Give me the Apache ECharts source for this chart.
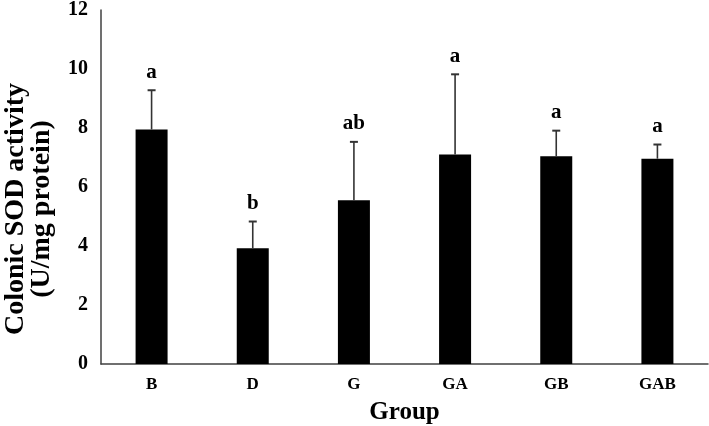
<!DOCTYPE html>
<html lang="en">
    <head>
        <meta charset="utf-8">
        <script src="https://cdn.jsdelivr.net/npm/echarts@6/dist/echarts.min.js"></script>
    </head>
    <style>
        *{
            margin:0;
            padding:0;
        }
    </style>
    <body>
        <div id="main" style="width: 709px;height:426px;"></div>
    </body>
</html>
<script>
// groups and values
var categories = ['B', 'D', 'G', 'GA', 'GB', 'GAB'];
var means = [7.95, 3.92, 5.55, 7.1, 7.04, 6.96];
var sd = [1.33, 0.91, 1.98, 2.72, 0.87, 0.48];
var letters = ['a', 'b', 'ab', 'a', 'a', 'a'];
var yTicks = [0, 2, 4, 6, 8, 10, 12];

var myChart = echarts.init(document.getElementById('main'));
var font = 'Liberation Serif';

var errData = means.map(function (m, i) {
    return [i, m, m + sd[i], letters[i]];
});

var option = {
    animation: false,
    backgroundColor: '#fff',
    grid: {
        left: 101,
        right: 1,
        top: 10,
        bottom: 62,
        outerBoundsMode: 'none'
    },
    xAxis: {
        type: 'category',
        data: categories,
        name: 'Group',
        nameLocation: 'middle',
        nameGap: 36,
        nameTextStyle: {
            fontFamily: font,
            fontWeight: 'bold',
            fontSize: 25,
            color: '#000'
        },
        axisLine: {lineStyle: {color: '#404040', width: 1.5}},
        axisTick: {show: false},
        axisLabel: {
            margin: 12,
            fontFamily: font,
            fontWeight: 'bold',
            fontSize: 17,
            color: '#000'
        }
    },
    yAxis: {
        type: 'value',
        min: 0,
        max: 12,
        interval: 2,
        name: 'Colonic SOD activity\n(U/mg protein)',
        nameLocation: 'middle',
        nameGap: 46,
        nameTextStyle: {
            fontFamily: font,
            fontWeight: 'bold',
            fontSize: 28,
            lineHeight: 26,
            color: '#000',
            padding: [0, 44, 0, 0]
        },
        splitLine: {show: false},
        axisTick: {show: false},
        axisLine: {show: true, lineStyle: {color: '#404040', width: 1.5}},
        axisLabel: {
            margin: 13,
            fontFamily: font,
            fontWeight: 'bold',
            fontSize: 20,
            color: '#000',
            formatter: function (v) {
                return yTicks.indexOf(v) >= 0 ? v : '';
            }
        }
    },
    series: [{
        type: 'bar',
        data: means,
        barWidth: 32,
        itemStyle: {color: '#000'},
        z: 2
    }, {
        type: 'custom',
        data: errData,
        z: 3,
        renderItem: function (params, api) {
            var low = api.coord([api.value(0), api.value(1)]);
            var high = api.coord([api.value(0), api.value(2)]);
            var cap = 4;
            return {
                type: 'group',
                children: [{
                    type: 'line',
                    shape: {x1: low[0], y1: low[1], x2: high[0], y2: high[1]},
                    style: {stroke: '#333', lineWidth: 1.6}
                }, {
                    type: 'line',
                    shape: {x1: high[0] - cap, y1: high[1], x2: high[0] + cap, y2: high[1]},
                    style: {stroke: '#333', lineWidth: 2}
                }, {
                    type: 'text',
                    x: high[0],
                    y: high[1] - 18,
                    style: {
                        text: letters[params.dataIndex],
                        fontFamily: font,
                        fontWeight: 'bold',
                        fontSize: 21,
                        fill: '#000',
                        align: 'center',
                        verticalAlign: 'middle'
                    }
                }]
            };
        }
    }]
};

myChart.setOption(option);
</script>
